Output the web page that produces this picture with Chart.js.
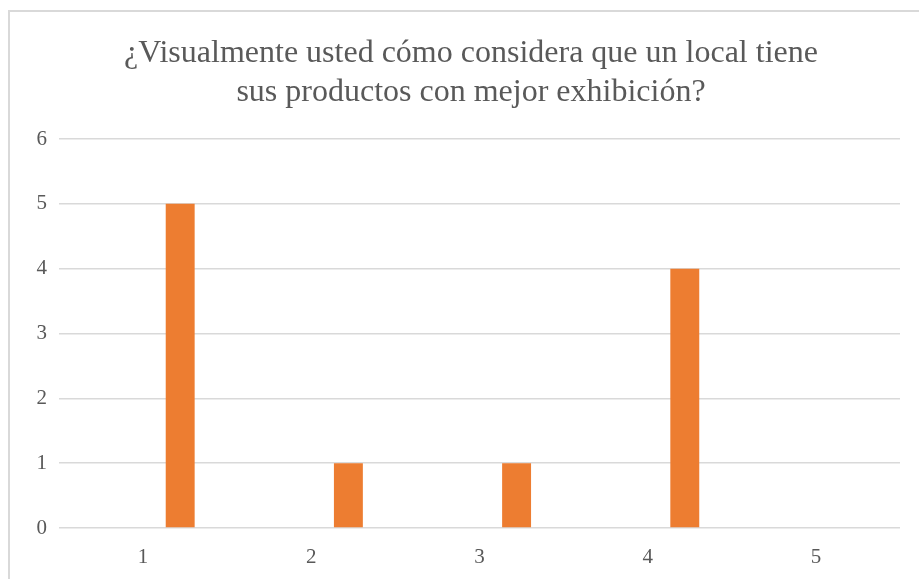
<!DOCTYPE html>
<html>
<head>
<meta charset="utf-8">
<script src="https://cdn.jsdelivr.net/npm/chart.js@4.4.0/dist/chart.umd.min.js"></script>
<style>
  html, body { margin: 0; padding: 0; background: #ffffff; overflow: hidden; }
  #frame { position: absolute; left: 8px; top: 10px; width: 1000px; height: 700px;
           border: 2px solid #d9d9d9; box-sizing: border-box; }
  #c { position: absolute; left: 0; top: 0; }
</style>
</head>
<body>
<div id="frame"></div>
<canvas id="c" width="919" height="579"></canvas>
<script>
const titleLines = ["¿Visualmente usted cómo considera que un local tiene", "sus productos con mejor exhibición?"];
const categories = ["1", "2", "3", "4", "5"];
const series1Values = [0, 0, 0, 0, 0];
const series2Values = [5, 1, 1, 4, 0];
const yTicks = [0, 1, 2, 3, 4, 5, 6];

const textColor = "#595959";
const gridColor = "#d9d9d9";
const serif = "'Liberation Serif', 'Times New Roman', serif";

const titlePlugin = {
  id: "excelTitle",
  afterDraw(chart) {
    const ctx = chart.ctx;
    ctx.save();
    ctx.fillStyle = textColor;
    ctx.font = "32px " + serif;
    ctx.textAlign = "center";
    ctx.textBaseline = "middle";
    const cx = 471;
    titleLines.forEach((line, i) => ctx.fillText(line, cx, 54 + i * 39));
    ctx.restore();
  }
};

new Chart(document.getElementById("c"), {
  type: "bar",
  data: {
    labels: categories,
    datasets: [
      { label: "Serie 1", data: series1Values, backgroundColor: "#4472C4", borderWidth: 0,
        categoryPercentage: 0.882, barPercentage: 0.39 },
      { label: "Serie 2", data: series2Values, backgroundColor: "#ED7D31", borderWidth: 0,
        categoryPercentage: 0.882, barPercentage: 0.39 }
    ]
  },
  plugins: [titlePlugin],
  options: {
    responsive: false,
    devicePixelRatio: 1,
    animation: false,
    layout: { padding: { left: 0, right: 19, top: 139, bottom: 0 } },
    plugins: {
      legend: { display: false },
      tooltip: { enabled: false },
      title: { display: false }
    },
    scales: {
      x: {
        grid: { display: false, drawTicks: false },
        border: { display: false },
        ticks: { color: textColor, padding: 17, font: { family: serif, size: 21 } },
        afterFit: (s) => { s.height = 51; }
      },
      y: {
        min: yTicks[0],
        max: yTicks[yTicks.length - 1],
        afterBuildTicks: (s) => { s.ticks = yTicks.map(v => ({ value: v })); },
        grid: { color: gridColor, lineWidth: 1.5, drawTicks: false },
        border: { display: false },
        ticks: { color: textColor, padding: 12, font: { family: serif, size: 21 } },
        afterFit: (s) => { s.width = 59; }
      }
    }
  }
});
</script>
</body>
</html>
